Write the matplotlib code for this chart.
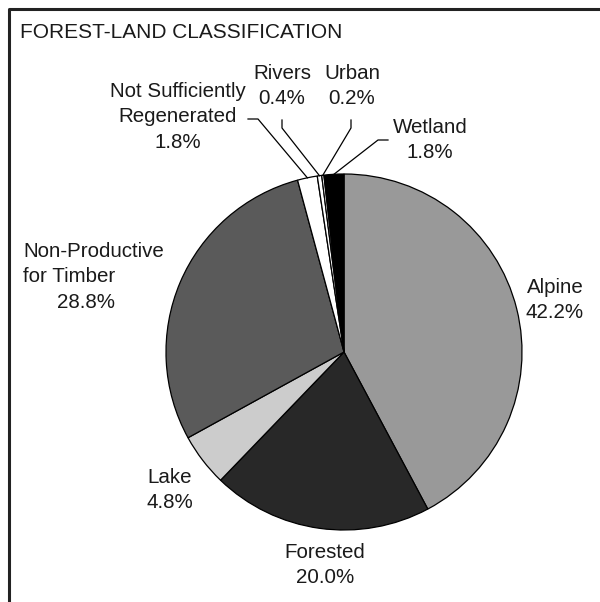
import numpy as np
import matplotlib.pyplot as plt

plt.rcParams['font.family'] = ['Liberation Sans', 'DejaVu Sans']

categories = ['Alpine', 'Forested', 'Lake', 'Non-Productive\nfor Timber',
              'Not Sufficiently\nRegenerated', 'Rivers', 'Urban', 'Wetland']
shares = [42.2, 20.0, 4.8, 28.8, 1.8, 0.4, 0.2, 1.8]
colours = ['#999999', '#282828', '#cccccc', '#5a5a5a', 'white', 'white', 'white', 'black']

W, H = 600, 602
fig = plt.figure(figsize=(W / 100, H / 100), dpi=100)
ax = fig.add_axes([0, 0, 1, 1])

cx, cy, r = 344, H - 352, 178
wedges, _ = ax.pie(shares, colors=colours, startangle=90, counterclock=False,
                   radius=r, center=(cx, cy), frame=True,
                   wedgeprops=dict(edgecolor='black', linewidth=0.9))
ax.set_xlim(0, W)
ax.set_ylim(0, H)
ax.set_aspect('equal')
ax.axis('off')

# frame (top and left only)
ax.plot([8.5, 8.5, W], [0, H - 8.5, H - 8.5], color='#222222', lw=2.2, solid_capstyle='butt')

ax.text(20, H - 33, 'FOREST-LAND CLASSIFICATION', fontsize=15, ha='left', va='center',
        color='#1a1a1a')

def edge(i):
    w = wedges[i]
    a = np.deg2rad((w.theta1 + w.theta2) / 2)
    return cx + r * np.cos(a), cy + r * np.sin(a)

fs = 14.8
def lab(x, y, s, ha='center'):
    ax.text(x, H - y, s, fontsize=fs, ha=ha, va='center', linespacing=1.43, color='#1a1a1a')

lab(555, 300, 'Alpine\n%.1f%%' % shares[0])
lab(325, 565, 'Forested\n%.1f%%' % shares[1])
lab(170, 490, 'Lake\n%.1f%%' % shares[2])
lab(23, 264, categories[3], ha='left')
lab(86, 303, '%.1f%%' % shares[3])
lab(178, 117, categories[4] + '\n%.1f%%' % shares[4])
lab(282, 86, 'Rivers\n%.1f%%' % shares[5])
lab(352, 86, 'Urban\n%.1f%%' % shares[6])
lab(430, 140, 'Wetland\n%.1f%%' % shares[7])

# leader lines: text anchor -> elbow -> slice edge
leaders = {4: [(248, 119), (258, 119)],
           5: [(282, 120), (282, 128)],
           6: [(351, 120), (351, 128)],
           7: [(388, 140), (378, 140)]}
for i, pts in leaders.items():
    ex, ey = edge(i)
    xs = [p[0] for p in pts] + [ex]
    ys = [H - p[1] for p in pts] + [ey]
    ax.plot(xs, ys, color='black', lw=0.9)

fig.savefig('out.png', dpi=100)
